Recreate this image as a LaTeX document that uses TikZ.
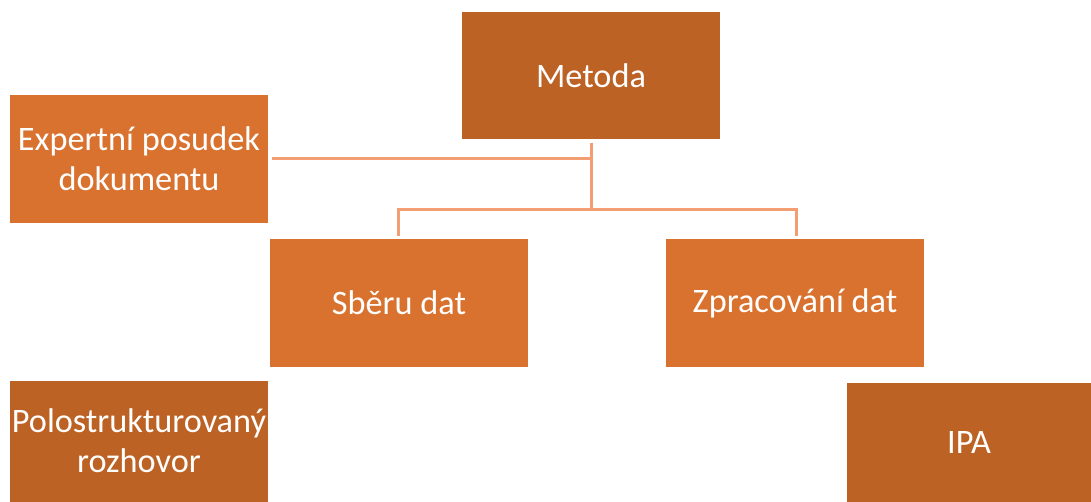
\documentclass[tikz,border=0pt]{standalone}
\usepackage{fontspec}
\setmainfont{Carlito}
\definecolor{darkor}{RGB}{188,98,36}
\definecolor{lightor}{RGB}{217,114,46}
\definecolor{lineor}{RGB}{243,157,115}
\begin{document}
\begin{tikzpicture}[x=1pt,y=-1pt,
  box/.style={inner sep=0pt, text=white, align=center, font=\fontsize{34.3}{40}\selectfont},
  conn/.style={draw=lineor, line width=3pt}]
\useasboundingbox (0,0) rectangle (1091,502);
% boxes
\fill[darkor] (462,12) rectangle (720,139);
\node[box] (metoda) at (591,75.5) {Metoda};
\fill[lightor] (10,95) rectangle (268,223);
\node[box] (expert) at (139,159) {Expertní posudek\\dokumentu};
\fill[lightor] (270,239) rectangle (528,367);
\node[box] (sber) at (399,303) {Sběru dat};
\fill[lightor] (666,239) rectangle (924,367);
\node[box] (zprac) at (795,303) {Zpracování dat};
\fill[darkor] (10,381) rectangle (268,502);
\node[box] (polo) at (139,441) {Polostrukturovaný\\rozhovor};
\fill[darkor] (847,383) rectangle (1091,502);
\node[box] (ipa) at (969,442) {IPA};
% connectors
\coordinate (mb) at (591,143);
\coordinate (j1) at (591,159);
\coordinate (j2) at (591,210);
\coordinate (el) at (272,159);
\coordinate (sl) at (398,210);
\coordinate (st) at (398,236);
\coordinate (zl) at (796,210);
\coordinate (zt) at (796,236);
\draw[conn] (mb) -- (j2);
\draw[conn] (el) -- (j1);
\draw[conn] (st) -- (sl) -- (zl) -- (zt);
\end{tikzpicture}
\end{document}
